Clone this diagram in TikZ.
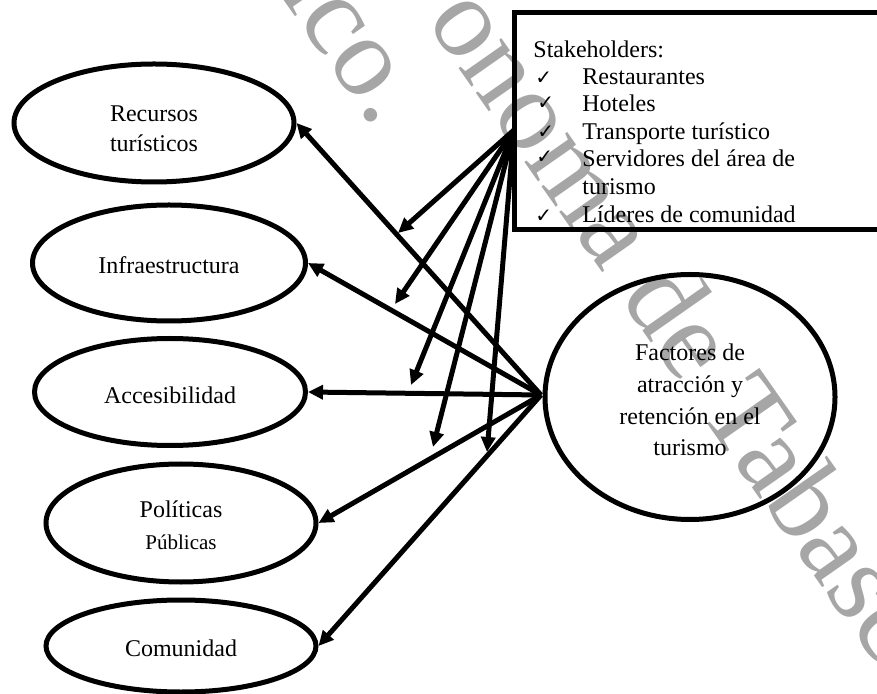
\documentclass[tikz,border=0pt]{standalone}
\usepackage{fontspec}
\setmainfont{Liberation Serif}
\newfontfamily\checkfont{DejaVu Sans}
\usetikzlibrary{arrows.meta,shapes.geometric}
\begin{document}
\begin{tikzpicture}[x=0.5pt,y=-0.5pt,
  oval/.style={ellipse, draw, line width=2.5pt, inner sep=0pt, align=center, font=\fontsize{12}{15}\selectfont},
  conn/.style={line width=2.5pt, -{Triangle[length=7.5pt,width=7pt]}},
  wmark/.style={text=black!35, inner sep=0pt, rotate=-55, anchor=base east, font=\fontsize{57}{57}\selectfont},
  boxtext/.style={inner sep=0pt, anchor=base west, font=\fontsize{12}{14}\selectfont},
  chk/.style={inner sep=0pt, anchor=base west, font=\checkfont\fontsize{10}{12}\selectfont}]
\useasboundingbox (0,0) rectangle (877,694);
% watermark
\node[wmark] (wm1) at (375,130) {ico.};
\node[wmark] (wm2) at (911,714) {onoma de Tabasco};
% ellipses
\node[oval, minimum width=140pt, minimum height=59pt] (E1) at (154,123) {\rule{0pt}{13.3pt}Recursos\\turísticos};
\node[oval, minimum width=136.5pt, minimum height=58pt] (E2) at (169,263) {\rule{0pt}{10.5pt}Infraestructura};
\node[oval, minimum width=135.5pt, minimum height=53.5pt] (E3) at (170,392) {\rule{0pt}{11.3pt}Accesibilidad};
\node[oval, minimum width=135pt, minimum height=59pt] (E4) at (181,523) {\rule{0pt}{11pt}Políticas\\[1pt]{\fontsize{10.5}{13}\selectfont Públicas}};
\node[oval, minimum width=135pt, minimum height=46pt] (E5) at (181,646) {\rule{0pt}{10.5pt}Comunidad};
\node[oval, minimum width=145pt, minimum height=122.5pt, font=\fontsize{12}{15.9}\selectfont] (F) at (690,397) {\rule{0pt}{11.3pt}Factores de\\atracción y\\retención en el\\turismo};
% stakeholder box
\node[draw, line width=2.25pt, inner sep=0pt, outer sep=0pt, anchor=north west, minimum width=190pt, minimum height=108.5pt] (box) at (514.5,12.5) {};
\node[boxtext] (s0) at (533,58) {Stakeholders:};
\node[chk] (c1) at (535,85) {✓};
\node[boxtext] (s1) at (582,85) {Restaurantes};
\node[chk] (c2) at (537,110) {✓};
\node[boxtext] (s2) at (582,112) {Hoteles};
\node[chk] (c3) at (537,139) {✓};
\node[boxtext] (s3) at (582,140) {Transporte turístico};
\node[chk] (c4) at (536,164) {✓};
\node[boxtext] (s4) at (582,167) {Servidores del área de};
\node[boxtext] (s5) at (582,195) {turismo};
\node[chk] (c5) at (535,223) {✓};
\node[boxtext] (s6) at (582,223) {Líderes de comunidad};
% connectors
\coordinate (sk) at (514,130);
\coordinate (fw) at (541,395);
\coordinate (t1) at (398,233);
\coordinate (t2) at (395,304);
\coordinate (t3) at (411,385);
\coordinate (t4) at (433,447);
\coordinate (t5) at (487,452);
\draw[conn] (sk) -- (t1);
\draw[conn] (sk) -- (t2);
\draw[conn] (sk) -- (t3);
\draw[conn] (sk) -- (t4);
\draw[conn] (sk) -- (t5);
\draw[conn] (fw) -- (E1.east);
\draw[conn] (fw) -- (E2.east);
\draw[conn] (fw) -- (E3.east);
\draw[conn] (fw) -- (E4.east);
\draw[conn] (fw) -- (E5.east);
\end{tikzpicture}
\end{document}
